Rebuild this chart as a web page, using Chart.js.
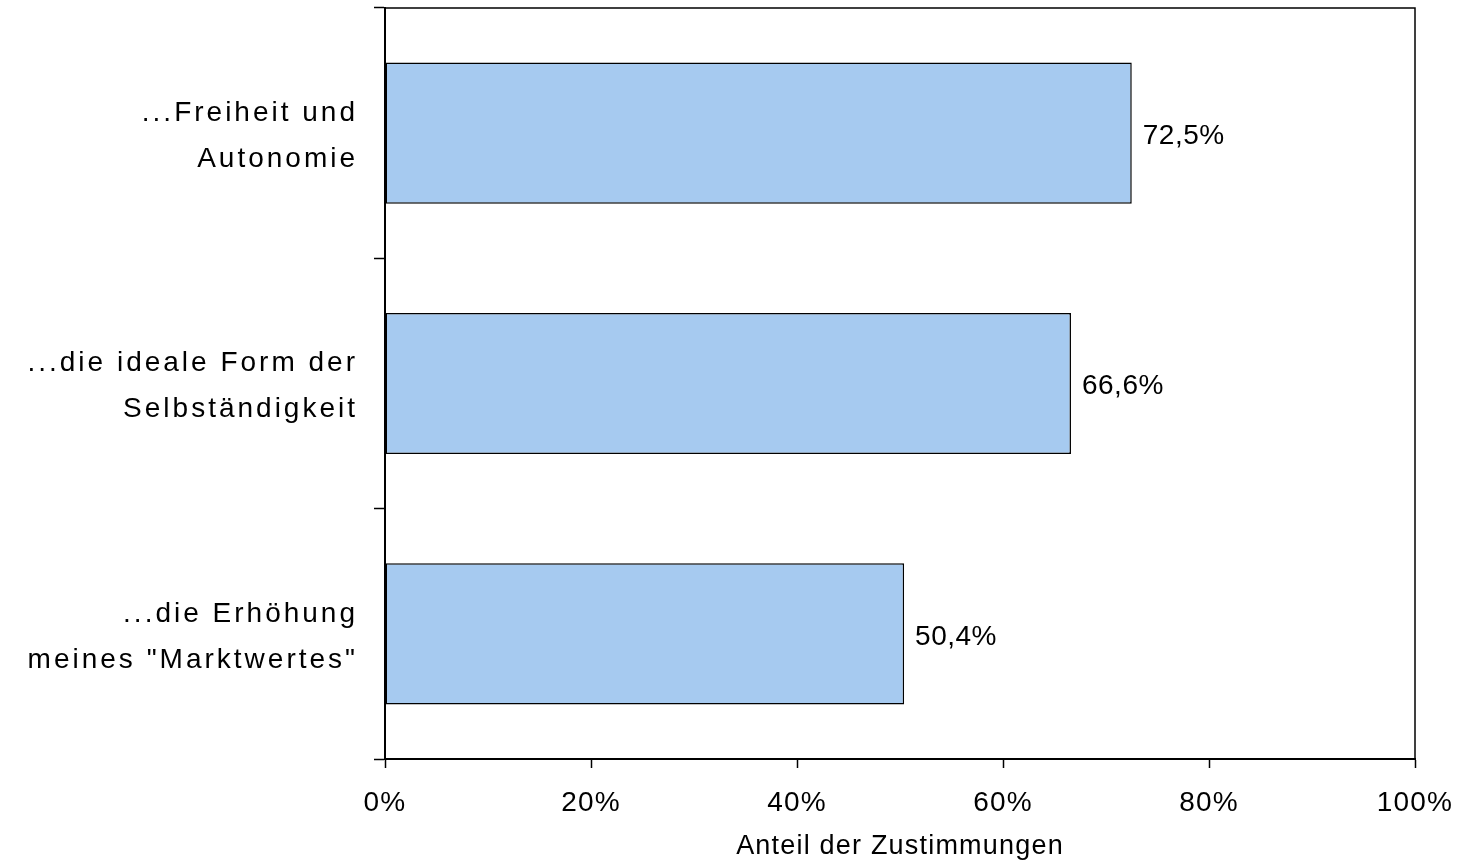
<!DOCTYPE html>
<html>
<head>
<meta charset="utf-8">
<script src="https://cdn.jsdelivr.net/npm/chart.js@4.4.1/dist/chart.umd.min.js"></script>
<style>
  body { margin: 0; background: #fff; }
  #wrap { width: 1460px; height: 861px; }
</style>
</head>
<body>
<div id="wrap"><canvas id="zustimmung" width="1460" height="861"></canvas></div>
<script>
const categories = [
    ["...Freiheit und", "Autonomie"],
    ["...die ideale Form der", "Selbständigkeit"],
    ["...die Erhöhung", "meines \"Marktwertes\""]
];
const shares = [72.5, 66.6, 50.4];
const shareLabels = ["72,5%", "66,6%", "50,4%"];
const xTicks = [0, 20, 40, 60, 80, 100];

const FONT = "'Liberation Sans', Arial, sans-serif";

// category labels are set wider than the rest; x ticks and title a little
// (the x axis layers use z: 1 so they are drawn after the bars)
const spacing = {
    id: "spacing",
    beforeDraw: function (chart) {
        chart.ctx.letterSpacing = "3px";
    },
    beforeDatasetsDraw: function (chart) {
        chart.ctx.letterSpacing = "0px";
    },
    afterDatasetsDraw: function (chart) {
        chart.ctx.letterSpacing = "1.2px";
    }
};

// box around the plot area, taken from the scale edges
const frame = {
    id: "frame",
    afterDraw: function (chart) {
        const x = chart.scales.x;
        const y = chart.scales.y;
        const ctx = chart.ctx;
        ctx.save();
        ctx.strokeStyle = "#000";
        ctx.lineWidth = 1.5;
        ctx.strokeRect(x.left, y.top, x.right - x.left, y.bottom - y.top);
        ctx.restore();
    }
};

// value text to the right of each bar
const valueLabels = {
    id: "valueLabels",
    afterDatasetsDraw: function (chart) {
        const ctx = chart.ctx;
        const meta = chart.getDatasetMeta(0);
        ctx.save();
        ctx.letterSpacing = "0.5px";
        ctx.font = "28px " + FONT;
        ctx.fillStyle = "#000";
        ctx.textAlign = "left";
        ctx.textBaseline = "middle";
        meta.data.forEach(function (bar, i) {
            ctx.fillText(shareLabels[i], bar.x + 11, bar.y + 3);
        });
        ctx.restore();
    }
};

const ctx = document.getElementById("zustimmung").getContext("2d");
new Chart(ctx, {
    type: "bar",
    data: {
        labels: categories,
        datasets: [
            {
                label: "",
                data: shares,
                backgroundColor: "#A6CAF0",
                borderColor: "#000",
                borderWidth: 1.5,
                borderSkipped: false,
                barPercentage: 0.564,
                categoryPercentage: 1
            }
        ]
    },
    options: {
        indexAxis: "y",
        responsive: false,
        animation: false,
        layout: {
            padding: { top: 8, right: 45, bottom: 0, left: 0 }
        },
        plugins: {
            legend: { display: false },
            tooltip: { enabled: false }
        },
        scales: {
            x: {
                min: 0,
                max: 100,
                afterBuildTicks: function (scale) {
                    scale.ticks = xTicks.map(function (v) { return { value: v }; });
                },
                afterFit: function (scale) {
                    scale.height = 102;
                    scale.paddingLeft = 0;
                    scale.paddingRight = 0;
                },
                grid: {
                    z: 1,
                    drawOnChartArea: false,
                    tickLength: 9,
                    tickColor: "#000",
                    tickWidth: 1.5
                },
                border: { z: 1, display: true, color: "#000", width: 2 },
                ticks: {
                    z: 1,
                    padding: 18,
                    color: "#000",
                    font: { family: FONT, size: 28 },
                    maxRotation: 0,
                    callback: function (v) { return v + "%"; }
                },
                title: {
                    display: true,
                    text: "Anteil der Zustimmungen",
                    color: "#000",
                    font: { family: FONT, size: 27 },
                    padding: { top: 0, bottom: -2 }
                }
            },
            y: {
                afterFit: function (scale) {
                    scale.width = 385;
                    scale.paddingTop = 0;
                    scale.paddingBottom = 0;
                },
                grid: {
                    offset: true,
                    drawOnChartArea: false,
                    tickLength: 11,
                    tickColor: "#000",
                    tickWidth: 1.5
                },
                border: { display: true, color: "#000", width: 2 },
                ticks: {
                    padding: 16,
                    labelOffset: 3,
                    color: "#000",
                    font: { family: FONT, size: 28, lineHeight: 1.64 }
                }
            }
        }
    },
    plugins: [spacing, frame, valueLabels]
});
</script>
</body>
</html>
